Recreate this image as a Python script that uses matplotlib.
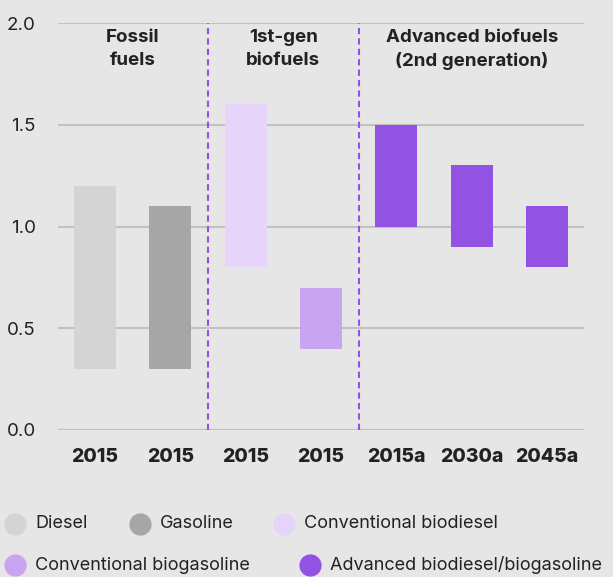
import matplotlib.pyplot as plt
from matplotlib.lines import Line2D

# data
x_labels = ['2015', '2015', '2015', '2015', '2015a', '2030a', '2045a']
low = [0.3, 0.3, 0.8, 0.4, 1.0, 0.9, 0.8]
high = [1.2, 1.1, 1.6, 0.7, 1.5, 1.3, 1.1]
series = ['Diesel', 'Gasoline', 'Conventional biodiesel', 'Conventional biogasoline',
          'Advanced biodiesel/biogasoline', 'Advanced biodiesel/biogasoline',
          'Advanced biodiesel/biogasoline']
groups = ['Fossil\nfuels', '1st-gen\nbiofuels', 'Advanced biofuels\n(2nd generation)']
group_pos = [0.5, 2.5, 5]

colors = {'Diesel': '#d4d4d4', 'Gasoline': '#a6a6a6', 'Conventional biodiesel': '#e7d4fb',
          'Conventional biogasoline': '#c8a4f1', 'Advanced biodiesel/biogasoline': '#9252e2'}

bg = '#e6e6e6'
txt = '#222222'
plt.rcParams['font.family'] = ['Inter', 'DejaVu Sans']

fig = plt.figure(figsize=(6.13, 5.77), dpi=100, facecolor=bg)
ax = fig.add_axes([58/613, 1-430/577, (584-58)/613, (430-23)/577], facecolor=bg)

xs = list(range(len(x_labels)))
heights = [h - l for h, l in zip(high, low)]
ax.bar(xs, heights, bottom=low, width=0.56, color=[colors[s] for s in series], zorder=3)

ax.set_xlim(-0.49, 6.49)
ax.set_ylim(0, 2.0)
ax.set_yticks([0, 0.5, 1.0, 1.5, 2.0])
ax.set_yticklabels(['0.0', '0.5', '1.0', '1.5', '2.0'], fontsize=13.5, color=txt)
ax.set_xticks(xs)
ax.set_xticklabels(x_labels, fontsize=14, fontweight='heavy', color=txt)
ax.tick_params(axis='y', length=0, pad=16)
ax.tick_params(axis='x', length=0, pad=13)
ax.grid(axis='y', color='#c2c2c2', lw=1.5, zorder=0)
ax.axhline(0, color='#aaaaaa', lw=1.5, zorder=1)
for s in ax.spines.values():
    s.set_visible(False)

for xv in [1.5, 3.5]:
    ax.axvline(xv, color='#9252e2', lw=1.5, linestyle=(0, (3, 2)), zorder=2)

for g, p in zip(groups, group_pos):
    ax.text(p, 1.97, g, ha='center', va='top', fontsize=13.5, fontweight='bold',
            color=txt, linespacing=1.45)

# legend, drawn by hand
leg = [('Diesel', 15, 524), ('Gasoline', 140, 524), ('Conventional biodiesel', 284, 524),
       ('Conventional biogasoline', 15, 565), ('Advanced biodiesel/biogasoline', 310, 565)]
for name, px, py in leg:
    fx, fy = px/613, 1-py/577
    fig.add_artist(Line2D([fx], [fy], marker='o', markersize=15, color=colors[name],
                          linestyle='none', transform=fig.transFigure))
    fig.text(fx + 20/613, fy, name, ha='left', va='center', fontsize=13, color=txt)

fig.savefig('out.png', dpi=100, facecolor=bg)
